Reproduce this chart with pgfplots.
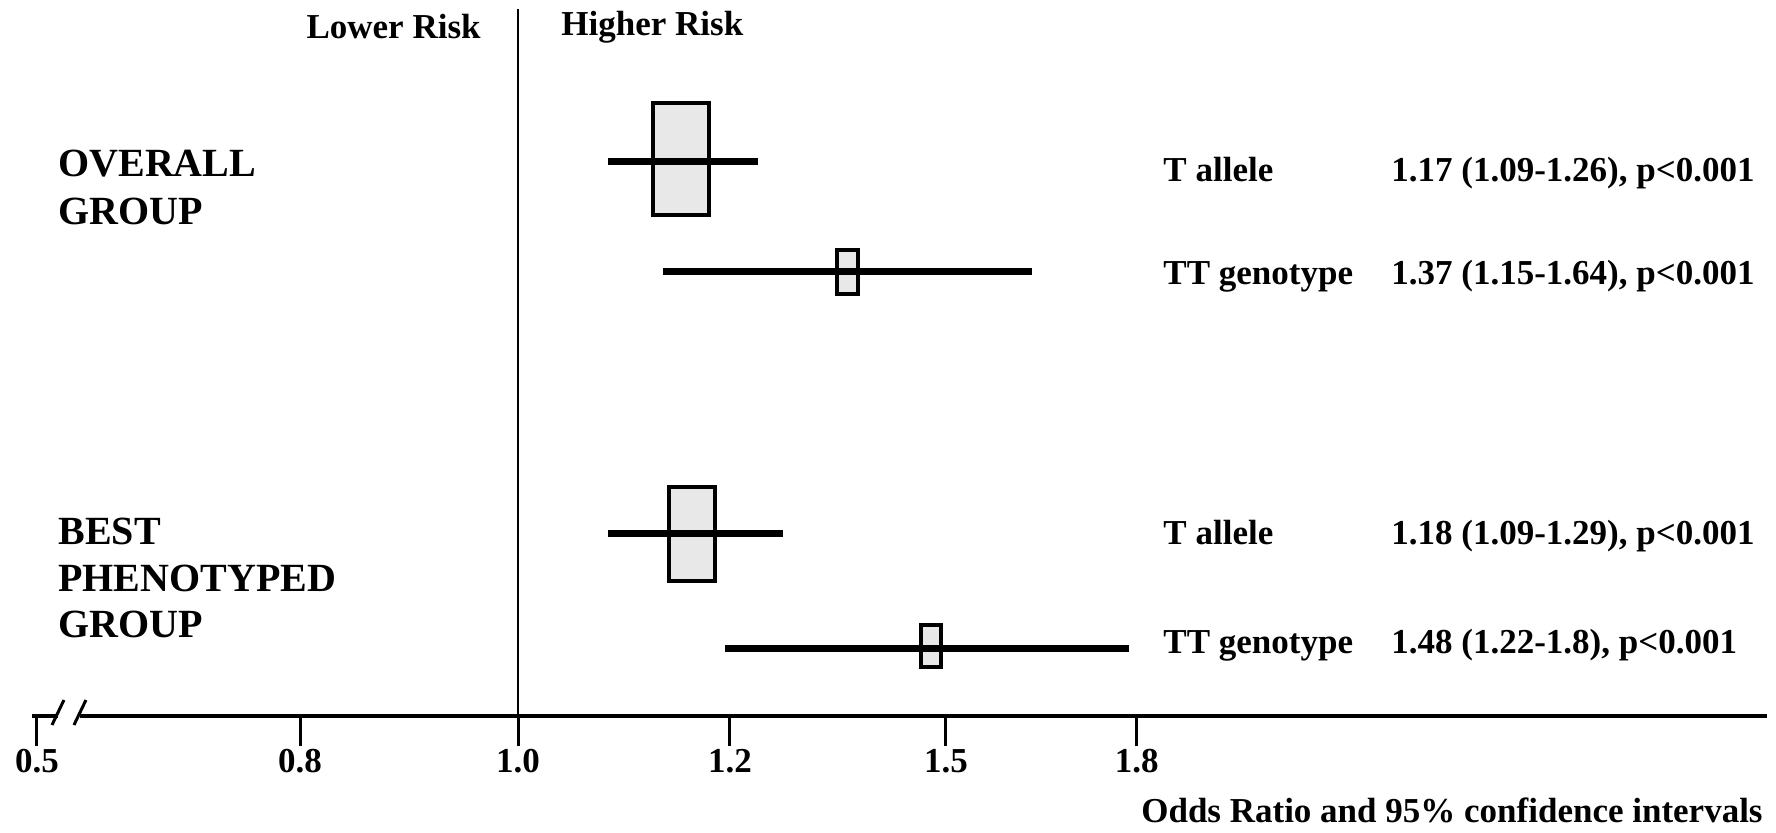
\documentclass[border=0pt]{standalone}
\usepackage{fontspec}
\setmainfont{Liberation Serif}
\usepackage{pgfplots}
\pgfplotsset{compat=1.18}
\definecolor{boxfill}{HTML}{E8E8E8}
\newcommand\fA{\bfseries\fontsize{17.5}{20}\selectfont}
\newcommand\fB{\bfseries\fontsize{20}{24}\selectfont}
\begin{document}
\begin{tikzpicture}
\begin{axis}[
  scale only axis, width=867.5pt, height=353.5pt,
  xmode=log, xmin=0.6267, xmax=3.323, ymin=0, ymax=707,
  axis x line*=bottom, axis y line=none,
  axis line style={line width=2.2pt, black},
  xtick={0.6297,0.811,1,1.226,1.509,1.813},
  xticklabels={0.5,0.8,1.0,1.2,1.5,1.8},
  minor xtick={},
  tick align=outside, major tick length=15pt,
  xtick style={line width=1.5pt, black},
  xticklabel style={font=\fA, yshift=2pt},
  clip=false,
]
% extend picture to the reference frame
\path (rel axis cs:-0.01844,-0.16407) rectangle (rel axis cs:1.00519,1.01273);
% line of no effect
\addplot[black, line width=1pt] coordinates {(1,0) (1,707)};
% boxes (point estimates, size = weight)
\addplot[fill=boxfill, draw=black, line width=1.8pt] coordinates {(1.1386,501) (1.2016,501) (1.2016,613) (1.1386,613)} -- cycle;
\addplot[fill=boxfill, draw=black, line width=1.8pt] coordinates {(1.359,422) (1.3867,422) (1.3867,466) (1.359,466)} -- cycle;
\addplot[fill=boxfill, draw=black, line width=1.8pt] coordinates {(1.1563,135) (1.2085,135) (1.2085,229) (1.1563,229)} -- cycle;
\addplot[fill=boxfill, draw=black, line width=1.8pt] coordinates {(1.4733,49) (1.5019,49) (1.5019,91) (1.4733,91)} -- cycle;
% confidence intervals
\addplot[black, line width=3.5pt] coordinates {(1.09,554) (1.26,554)};
\addplot[black, line width=3.5pt] coordinates {(1.15,444) (1.64,444)};
\addplot[black, line width=3.5pt] coordinates {(1.09,183) (1.29,183)};
\addplot[black, line width=3.5pt] coordinates {(1.22,68) (1.80,68)};
% axis break
\fill[white] (rel axis cs:0.0150,-0.008) rectangle (rel axis cs:0.0277,0.008);
\draw[black, line width=1.5pt] (rel axis cs:0.01153,-0.01273) -- (rel axis cs:0.01844,0.02263);
\draw[black, line width=1.5pt] (rel axis cs:0.02421,-0.01273) -- (rel axis cs:0.03112,0.02263);
% headings
\node[anchor=east, font=\fA, inner sep=0pt] at (rel axis cs:0.2588,0.9745) {Lower Risk};
\node[anchor=west, font=\fA, inner sep=0pt] at (rel axis cs:0.3049,0.9745) {Higher Risk};
% group labels
\node[anchor=base west, font=\fB, inner sep=0pt] at (rel axis cs:0.015,0.7624) {OVERALL};
\node[anchor=base west, font=\fB, inner sep=0pt] at (rel axis cs:0.015,0.6945) {GROUP};
\node[anchor=base west, font=\fB, inner sep=0pt] at (rel axis cs:0.015,0.2419) {BEST};
\node[anchor=base west, font=\fB, inner sep=0pt] at (rel axis cs:0.015,0.1768) {PHENOTYPED};
\node[anchor=base west, font=\fB, inner sep=0pt] at (rel axis cs:0.015,0.1117) {GROUP};
% row labels and estimates
\node[anchor=base west, font=\fA, inner sep=0pt] at (rel axis cs:0.6519,0.7567) {T allele};
\node[anchor=base west, font=\fA, inner sep=0pt] at (rel axis cs:0.7833,0.7567) {1.17 (1.09-1.26), p<0.001};
\node[anchor=base west, font=\fA, inner sep=0pt] at (rel axis cs:0.6519,0.6110) {TT genotype};
\node[anchor=base west, font=\fA, inner sep=0pt] at (rel axis cs:0.7833,0.6110) {1.37 (1.15-1.64), p<0.001};
\node[anchor=base west, font=\fA, inner sep=0pt] at (rel axis cs:0.6519,0.2419) {T allele};
\node[anchor=base west, font=\fA, inner sep=0pt] at (rel axis cs:0.7833,0.2419) {1.18 (1.09-1.29), p<0.001};
\node[anchor=base west, font=\fA, inner sep=0pt] at (rel axis cs:0.6519,0.0891) {TT genotype};
\node[anchor=base west, font=\fA, inner sep=0pt] at (rel axis cs:0.7833,0.0891) {1.48 (1.22-1.8), p<0.001};
% axis title
\node[anchor=base east, font=\fA, inner sep=0pt] at (rel axis cs:0.9977,-0.1513) {Odds Ratio and 95\% confidence intervals};
\end{axis}
\end{tikzpicture}
\end{document}
